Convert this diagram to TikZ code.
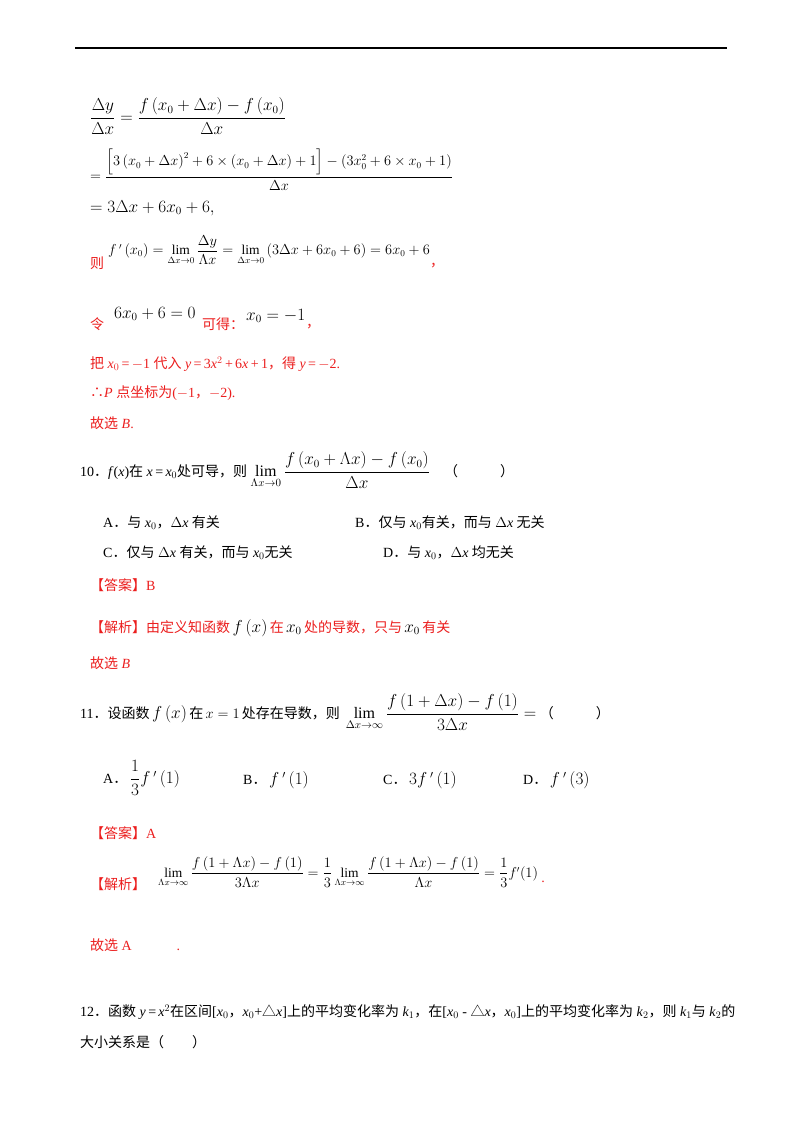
\documentclass[tikz,border=0pt]{standalone}
\usepackage{amsmath}
\usepackage{fontspec}
\setmainfont{Liberation Serif}
\newfontfamily\cjk{Noto Sans CJK SC}
\definecolor{ans}{RGB}{235,30,30}
\newcommand{\zh}[1]{{\cjk #1}}
\begin{document}
\begin{tikzpicture}[x=1pt,y=-1pt,
  t/.style={anchor=west,inner sep=0pt,font=\fontsize{14}{16}\selectfont},
  m/.style={anchor=west,inner sep=0pt,font=\fontsize{16}{18}\selectfont},
  ms/.style={anchor=west,inner sep=0pt,font=\fontsize{13.5}{16}\selectfont},
  r/.style={t,text=ans}]
\useasboundingbox (0,0) rectangle (800,1132);
\draw[line width=1.2pt] (75,48) -- (727,48);
\node[m] (l1) at (90,116) {$\dfrac{\Delta y}{\Delta x}=\dfrac{f\left(x_0+\Delta x\right)-f\left(x_0\right)}{\Delta x}$};
\node[ms] (l2) at (90,170) {$=\dfrac{\left[3\left(x_0+\Delta x\right)^2+6\times\left(x_0+\Delta x\right)+1\right]-\left(3x_0^2+6\times x_0+1\right)}{\Delta x}$};
\node[m] (l3) at (90,208) {$=3\Delta x+6x_0+6,$};
\node[r] (l4a) at (90,263) {\zh{则}};
\node[ms] (l4) at (108,250) {$f\,'\left(x_0\right)=\lim\limits_{\Delta x\to0}\dfrac{\Delta y}{\Lambda x}=\lim\limits_{\Delta x\to0}\left(3\Delta x+6x_0+6\right)=6x_0+6$};
\node[r] (l4b) at (430,266) {\zh{，}};
\node[r] (l5a) at (90,324) {\zh{令}};
\node[m] (l5) at (114,314) {$6x_0+6=0$};
\node[r] (l5b) at (202,324) {\zh{可得：}};
\node[m] (l5c) at (246,316) {$x_0=-1$};
\node[r] (l5d) at (306,327) {\zh{，}};
\node[r] (l6) at (90,364) {\zh{把} \textit{x}$_0$\,=\,$-$1 \zh{代入} \textit{y}\,=\,3\textit{x}$^2$\,+\,6\textit{x}\,+\,1\zh{，得} \textit{y}\,=\,$-$2.};
\node[r] (l7) at (90,393) {\zh{∴}\textit{P} \zh{点坐标为}($-$1\zh{，}$-$2).};
\node[r] (l8) at (90,423) {\zh{故选} \textit{B}.};
\node[t] (q10) at (80,470) {10\zh{．}\textit{f}(\textit{x})\zh{在} \textit{x}\,=\,\textit{x}$_0$\zh{处可导，则} {\fontsize{16}{18}\selectfont$\lim\limits_{\Lambda x\to0}\dfrac{f\left(x_0+\Lambda x\right)-f\left(x_0\right)}{\Delta x}$}\quad \zh{（\qquad\quad ）}};
\node[t] (oa) at (103,523) {A\zh{．与} \textit{x}$_0$\zh{，}$\Delta$\textit{x} \zh{有关}};
\node[t] (ob) at (355,523) {B\zh{．仅与} \textit{x}$_0$\zh{有关，而与} $\Delta$\textit{x} \zh{无关}};
\node[t] (oc) at (103,553) {C\zh{．仅与} $\Delta$\textit{x} \zh{有关，而与} \textit{x}$_0$\zh{无关}};
\node[t] (od) at (383,553) {D\zh{．与} \textit{x}$_0$\zh{，}$\Delta$\textit{x} \zh{均无关}};
\node[r] (a10) at (90,585) {\zh{【答案】}B};
\node[r] (j10) at (90,628) {\zh{【解析】由定义知函数}\,{\color{black}\fontsize{16}{18}\selectfont$f\left(x\right)$}\,\zh{在}\,{\color{black}\fontsize{16}{18}\selectfont$x_0$}\,\zh{处的导数，只与}\,{\color{black}\fontsize{16}{18}\selectfont$x_0$}\,\zh{有关}};
\node[r] (g10) at (90,663) {\zh{故选} \textit{B}};
\node[t] (q11) at (80,712) {11\zh{．设函数}\,{\fontsize{16}{18}\selectfont$f\left(x\right)$}\,\zh{在}\,$x=1$\,\zh{处存在导数，则}\, {\fontsize{16}{18}\selectfont$\lim\limits_{\Delta x\to\infty}\dfrac{f\left(1+\Delta x\right)-f\left(1\right)}{3\Delta x}=$} \zh{（\qquad\quad ）}};
\node[m] (pa) at (103,778) {{\fontsize{14}{16}\selectfont A\zh{．}}\,$\dfrac{1}{3}f\,'\left(1\right)$};
\node[m] (pb) at (243,780) {{\fontsize{14}{16}\selectfont B\zh{．}}\,$f\,'\left(1\right)$};
\node[m] (pc) at (383,780) {{\fontsize{14}{16}\selectfont C\zh{．}}\,$3f\,'\left(1\right)$};
\node[m] (pd) at (523,780) {{\fontsize{14}{16}\selectfont D\zh{．}}\,$f\,'\left(3\right)$};
\node[r] (a11) at (90,833) {\zh{【答案】}A};
\node[r] (j11) at (90,884) {\zh{【解析】}};
\node[ms] (j11m) at (158,872) {$\lim\limits_{\Lambda x\to\infty}\dfrac{f\left(1+\Lambda x\right)-f\left(1\right)}{3\Lambda x}=\dfrac{1}{3}\lim\limits_{\Lambda x\to\infty}\dfrac{f\left(1+\Lambda x\right)-f\left(1\right)}{\Lambda x}=\dfrac{1}{3}f'(1)$};
\node[r] (j11d) at (j11m.east) [anchor=west,yshift=-10pt,xshift=3pt] {.};
\node[r] (g11) at (90,945) {\zh{故选} A\hspace{3.2em}.};
\node[t] (q12) at (80,1012) {12\zh{．函数} \textit{y}\,=\,\textit{x}$^2$\zh{在区间}[\textit{x}$_0$\zh{，}\textit{x}$_0$+\zh{△}\textit{x}]\zh{上的平均变化率为} \textit{k}$_1$\zh{，在}[\textit{x}$_0$ - \zh{△}\textit{x}\zh{，}\textit{x}$_0$]\zh{上的平均变化率为} \textit{k}$_2$\zh{，则} \textit{k}$_1$\zh{与} \textit{k}$_2$\zh{的}};
\node[t] (q12b) at (80,1042) {\zh{大小关系是（\qquad ）}};
\end{tikzpicture}
\end{document}
